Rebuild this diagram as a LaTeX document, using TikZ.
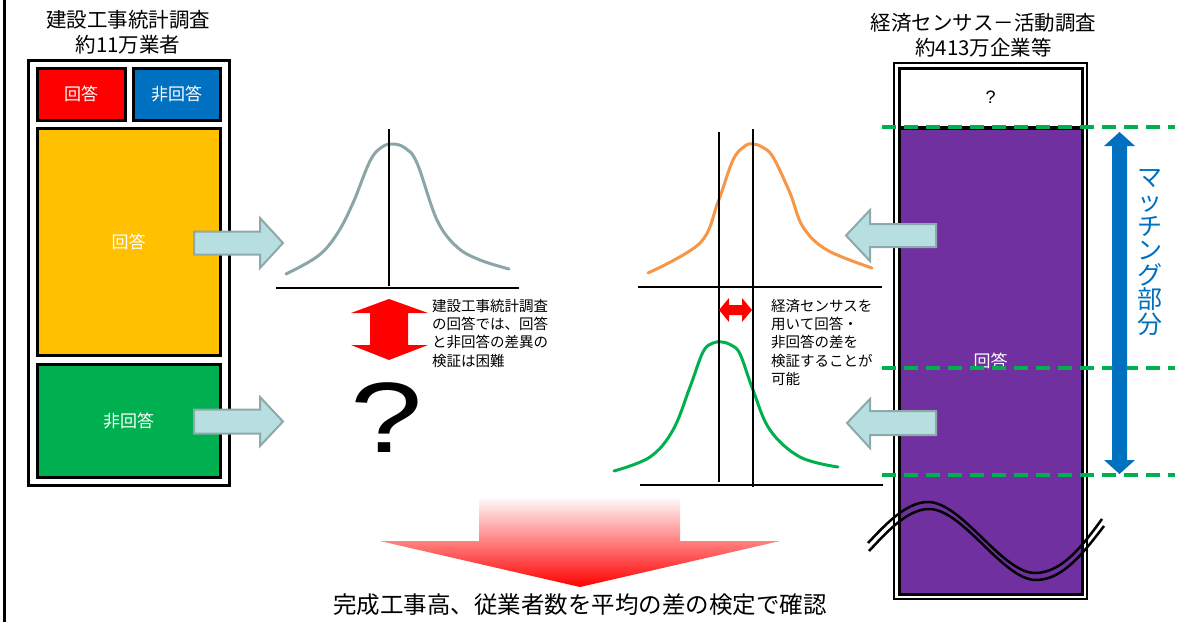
\documentclass[tikz,border=0pt]{standalone}
\usepackage{fontspec}
\usepackage{graphicx}
\setmainfont{Noto Sans CJK JP}
\newfontfamily\latinf{Liberation Sans}
\definecolor{cred}{HTML}{FF0000}
\definecolor{cblue}{HTML}{0070C0}
\definecolor{cyellow}{HTML}{FFC000}
\definecolor{cgreen}{HTML}{00B050}
\definecolor{cpurple}{HTML}{7030A0}
\definecolor{arrfill}{HTML}{B7DEE0}
\definecolor{arrline}{HTML}{8EA9A9}
\definecolor{curvegray}{HTML}{8BA6A6}
\definecolor{corange}{HTML}{F79646}
\tikzset{
  box/.style={draw=black, line width=3pt, inner sep=0pt, text=white, font=\fontsize{17}{20}\selectfont},
  blockarrow/.style={fill=arrfill, draw=arrline, line width=2pt, line join=miter},
  axisline/.style={draw=black, line width=2pt},
  bell/.style={line width=3pt, line cap=round},
  matchline/.style={draw=cgreen, line width=4pt, dash pattern=on 14pt off 8pt},
  note/.style={align=left, inner sep=0pt, anchor=north west, font=\fontsize{14.5}{18.3}\selectfont},
  title/.style={align=center, inner sep=0pt, font=\fontsize{20.5}{25}\selectfont},
  breakline/.style={draw=black, line width=2.5pt},
}
\begin{document}
\begin{tikzpicture}[x=1pt, y=-1pt]
\useasboundingbox (0,0) rectangle (1196,622);
\fill[white] (0,0) rectangle (1196,622);

% left edge line
\coordinate (edgetop) at (4,0);
\coordinate (edgebot) at (4,622);
\draw[line width=3pt] (edgetop) -- (edgebot);

% ---------- left panel ----------
\node[title] (ltitle) at (128,32) {建設工事統計調査\\約11万業者};
\node[draw=black, line width=3pt, minimum width=201, minimum height=425, inner sep=0pt] (lframe) at (128.5,272.5) {};
\node[box, fill=cred, minimum width=88, minimum height=52] (lresp) at (81,94) {回答};
\node[box, fill=cblue, minimum width=87, minimum height=52] (lnonresp) at (176.5,94) {非回答};
\node[box, fill=cyellow, minimum width=183, minimum height=227] (yresp) at (128.5,241.5) {回答};
\node[box, fill=cgreen, minimum width=183, minimum height=113] (gnon) at (128.5,420.5) {非回答};

% block arrows left -> graphs
\draw[blockarrow] (194,231.5) -- (260,231.5) -- (260,218) -- (283,243) -- (260,268) -- (260,254.5) -- (194,254.5) -- cycle;
\draw[blockarrow] (194,409.5) -- (260,409.5) -- (260,397) -- (283,421.5) -- (260,446) -- (260,433.5) -- (194,433.5) -- cycle;

% left graph
\draw[bell, curvegray] plot[smooth, tension=0.6] coordinates {(286,274) (318,256) (337,234) (353,203) (370,161) (382,147) (393,144) (405,148) (417,163) (437,220) (457,247) (480,260) (509,269)};
\draw[axisline] (389,129) -- (389,286);
\draw[axisline] (276,288) -- (519,288);

% red vertical double arrow
\fill[cred] (389,299) -- (428,313) -- (408,313) -- (408,345) -- (428,345) -- (389,360) -- (351,345) -- (370,345) -- (370,313) -- (351,313) -- cycle;
\node[note] (lnote) at (432,299) {建設工事統計調査\\の回答では、回答\\と非回答の差異の\\検証は困難};
\node[inner sep=0pt, font=\latinf\fontsize{100}{100}\selectfont] (bigq) at (386.5,417.5) {\scalebox{1.3}[1]{?}};

% ---------- right graphs ----------
\draw[bell, corange] plot[smooth, tension=0.6] coordinates {(648,273) (700,243) (718,202) (733,160) (745,146) (753,144) (762,147) (773,157) (790,193) (803,227) (827,250) (872,268)};
\draw[bell, cgreen] plot[smooth, tension=0.6] coordinates {(614,471) (650,457) (673,430) (690,387) (703,352) (713,343) (722,342) (731,345) (740,354) (753,390) (770,430) (800,457) (838,467)};
\draw[axisline] (719,132) -- (719,482);
\draw[axisline] (753,129) -- (753,487);
\draw[axisline] (638,287) -- (882,287);
\draw[axisline] (640,485) -- (883,485);

% small red horizontal double arrow
\fill[cred] (719,310) -- (729,298) -- (729,305) -- (742,305) -- (742,298) -- (752,310) -- (742,322) -- (742,315) -- (729,315) -- (729,322) -- cycle;
\node[note] (rnote) at (771,299) {経済センサスを\\用いて回答・\\非回答の差を\\検証することが\\可能};

% ---------- right panel ----------
\node[title] (rtitle) at (983.5,35.5) {経済センサス－活動調査\\約413万企業等};
\node[draw=black, line width=2pt, minimum width=193, minimum height=536, inner sep=0pt] (rframe) at (990.5,331) {};
\node[box, fill=white, text=black, minimum width=183, minimum height=59, font=\latinf\fontsize{18}{20}\selectfont] (unk) at (990.5,97.5) {?};
\node[box, fill=cpurple, minimum width=183, minimum height=466] (purp) at (990.5,361) {回答};

% break marks
\draw[breakline] (868,543) .. controls (885,525) and (906,502) .. (928,502) .. controls (962,502) and (1002,573) .. (1035,573) .. controls (1062,573) and (1083,545) .. (1102,519);
\draw[breakline] (869,551) .. controls (886,533) and (907,509) .. (929,509) .. controls (963,509) and (1003,580) .. (1036,580) .. controls (1063,580) and (1084,552) .. (1104,526);

% block arrows right -> graphs
\draw[blockarrow] (936,224) -- (870,224) -- (870,210) -- (846,235.5) -- (870,261) -- (870,247) -- (936,247) -- cycle;
\draw[blockarrow] (936,411) -- (870,411) -- (870,399) -- (847,423) -- (870,448) -- (870,435) -- (936,435) -- cycle;

% matching lines
\coordinate (m1a) at (882,127); \coordinate (m1b) at (1175,127);
\coordinate (m2a) at (882,368); \coordinate (m2b) at (1175,368);
\coordinate (m3a) at (882,475); \coordinate (m3b) at (1175,475);
\draw[matchline] (m1a) -- (m1b);
\draw[matchline] (m2a) -- (m2b);
\draw[matchline] (m3a) -- (m3b);

% blue double arrow
\fill[cblue] (1119.5,132) -- (1135,146) -- (1127,146) -- (1127,460) -- (1135,460) -- (1119.5,474) -- (1104,460) -- (1112,460) -- (1112,146) -- (1104,146) -- cycle;
\node[text=cblue, align=center, inner sep=0pt, font=\fontsize{25}{24.5}\selectfont] (matchlabel) at (1150,252) {マ\\ッ\\チ\\ン\\グ\\部\\分};

% ---------- bottom ----------
\shade[top color=white, middle color=red!30, bottom color=red] (479,496) -- (680,496) -- (680,541) -- (780,541) -- (580,587) -- (380,541) -- (479,541) -- cycle;
\node[inner sep=0pt, font=\fontsize{23.5}{26}\selectfont] (concl) at (580,605) {完成工事高、従業者数を平均の差の検定で確認};
\end{tikzpicture}
\end{document}
